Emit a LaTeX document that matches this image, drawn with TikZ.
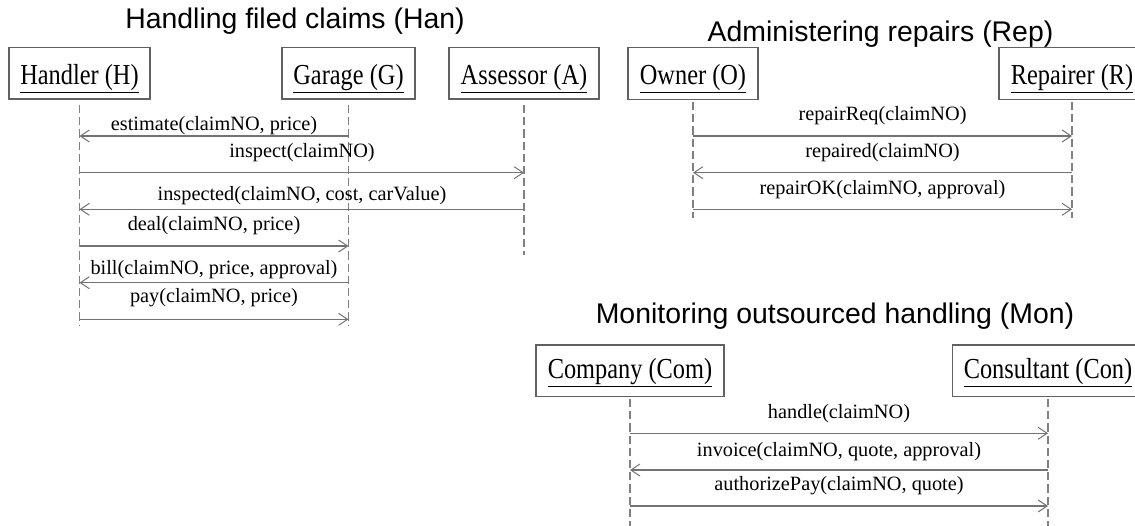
\documentclass[tikz,border=0pt]{standalone}
\usepackage{fontspec}
\setmainfont{Liberation Serif}
\newfontfamily\titlefont{Liberation Sans}
\newfontfamily\actorfont[FakeStretch=0.84]{Liberation Serif}
\usetikzlibrary{arrows.meta}

\tikzset{
  actor/.style={draw=black!62, line width=1.3pt, fill=white, inner sep=0pt,
    minimum height=51.6pt, text depth=0pt, font=\actorfont\fontsize{29}{32}\selectfont},
  upper/.style={text height=22.5pt},
  lower/.style={text height=15pt},
  life/.style={draw=black!50, line width=1.4pt, dash pattern=on 8.2pt off 4pt},
  msg/.style={draw=black!55, line width=1.2pt,
    -{Straight Barb[length=9pt, width=12pt, line width=1pt]}},
  msglabel/.style={anchor=base, inner sep=0pt, font=\fontsize{20.3}{24}\selectfont},
  heading/.style={anchor=base, inner sep=0pt, font=\titlefont\fontsize{28.4}{32}\selectfont}
}

\begin{document}
\begin{tikzpicture}[x=1pt, y=-1pt]
\clip (0,0) rectangle (1135,525);
\fill[white] (0,0) rectangle (1135,525);

% ---- Handling filed claims ----
\node[heading] (tHan) at (295,28) {Handling filed claims (Han)};
\node[actor, upper, minimum width=141pt] (H) at (79.5,73.3) {\underline{Handler (H)}};
\node[actor, upper, minimum width=133pt] (G) at (348.5,73.3) {\underline{Garage (G)}};
\node[actor, upper, minimum width=150pt] (A) at (524,73.3) {\underline{Assessor (A)}};

\draw[life] (H.south |- 0,105) -- (H.south |- 0,326);
\draw[life] (G.south |- 0,105) -- (G.south |- 0,326);
\draw[life] (A.south |- 0,105) -- (A.south |- 0,255);

\node[msglabel] (m1) at (214,130.5) {estimate(claimNO, price)};
\draw[msg] (G.south |- 0,136) -- (H.south |- 0,136);
\node[msglabel] (m2) at (302,157) {inspect(claimNO)};
\draw[msg] (H.south |- 0,172.7) -- (A.south |- 0,172.7);
\node[msglabel] (m3) at (302,200.7) {inspected(claimNO, cost, carValue)};
\draw[msg] (A.south |- 0,209.3) -- (H.south |- 0,209.3);
\node[msglabel] (m4) at (214,230) {deal(claimNO, price)};
\draw[msg] (H.south |- 0,246) -- (G.south |- 0,246);
\node[msglabel] (m5) at (214,274) {bill(claimNO, price, approval)};
\draw[msg] (G.south |- 0,282.7) -- (H.south |- 0,282.7);
\node[msglabel] (m6) at (214,302.5) {pay(claimNO, price)};
\draw[msg] (H.south |- 0,319.3) -- (G.south |- 0,319.3);

% ---- Administering repairs ----
\node[heading] (tRep) at (880.5,41) {Administering repairs (Rep)};
\node[actor, upper, minimum width=130pt] (O) at (693,73.5) {\underline{Owner (O)}};
\node[actor, upper, minimum width=146pt] (R) at (1072,73.5) {\underline{Repairer (R)}};

\draw[life] (O.south |- 0,102) -- (O.south |- 0,218);
\draw[life] (R.south |- 0,102) -- (R.south |- 0,218);

\node[msglabel] (r1) at (882.5,120) {repairReq(claimNO)};
\draw[msg] (O.south |- 0,136) -- (R.south |- 0,136);
\node[msglabel] (r2) at (882.5,157) {repaired(claimNO)};
\draw[msg] (R.south |- 0,172.7) -- (O.south |- 0,172.7);
\node[msglabel] (r3) at (882.5,194) {repairOK(claimNO, approval)};
\draw[msg] (O.south |- 0,209.3) -- (R.south |- 0,209.3);

% ---- Monitoring outsourced handling ----
\node[heading] (tMon) at (835,323) {Monitoring outsourced handling (Mon)};
\node[actor, lower, minimum width=188pt] (Com) at (630,370.8) {\underline{Company (Com)}};
\node[actor, lower, minimum width=190.6pt] (Con) at (1048,370.8) {\underline{Consultant (Con)}};

\draw[life] (Com.south |- 0,399) -- (Com.south |- 0,530);
\draw[life] (Con.south |- 0,399) -- (Con.south |- 0,530);

\node[msglabel] (c1) at (839,418.3) {handle(claimNO)};
\draw[msg] (Com.south |- 0,433.3) -- (Con.south |- 0,433.3);
\node[msglabel] (c2) at (839,456.7) {invoice(claimNO, quote, approval)};
\draw[msg] (Con.south |- 0,470) -- (Com.south |- 0,470);
\node[msglabel] (c3) at (839,490) {authorizePay(claimNO, quote)};
\draw[msg] (Com.south |- 0,506) -- (Con.south |- 0,506);
\end{tikzpicture}
\end{document}
